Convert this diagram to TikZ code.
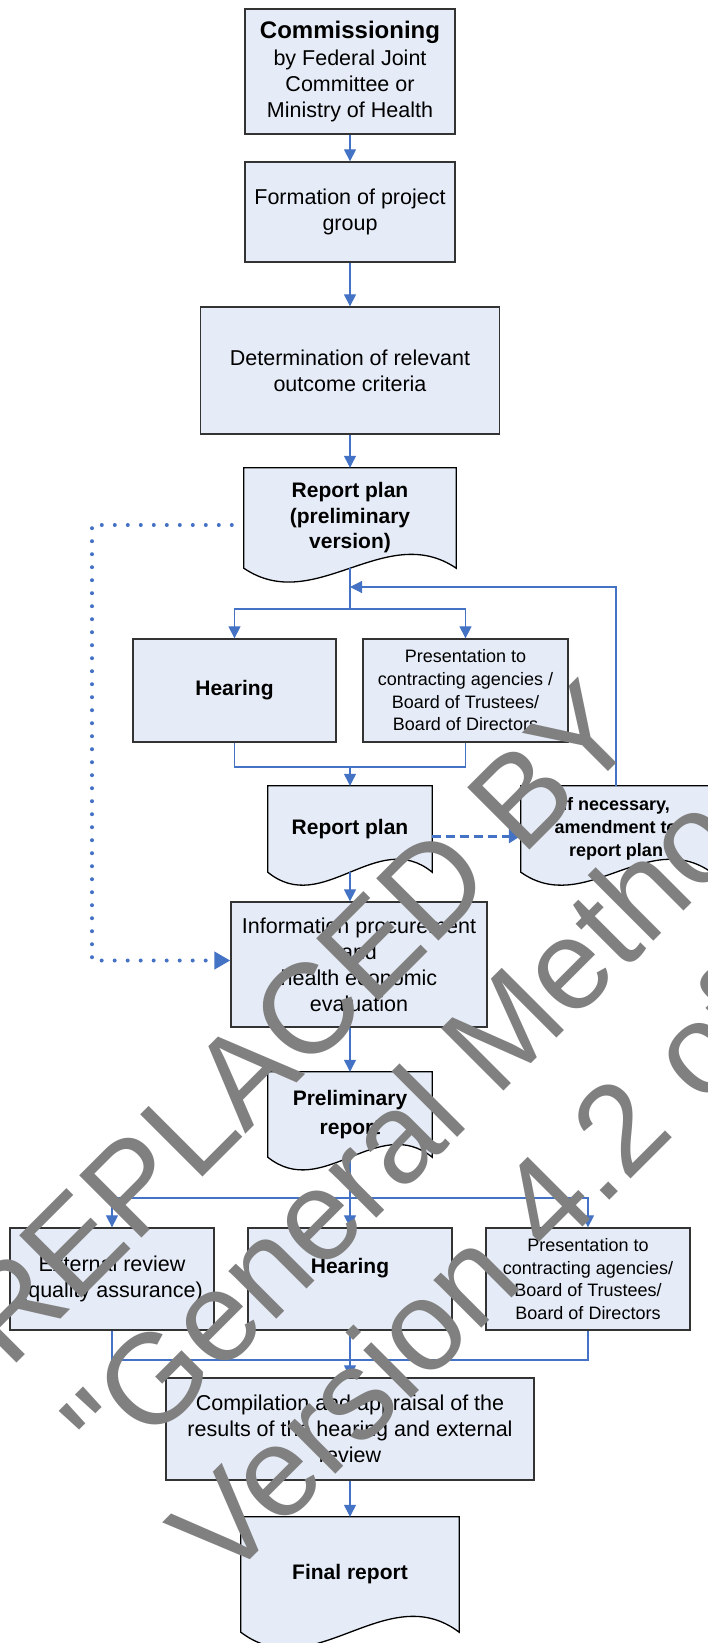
\documentclass[tikz,border=0pt]{standalone}
\usepackage{fontspec}
\setmainfont{Liberation Sans}
\usetikzlibrary{arrows.meta,calc,positioning,backgrounds}

\definecolor{boxfill}{HTML}{E6ECF7}
\definecolor{boxline}{HTML}{333333}
\definecolor{flowblue}{HTML}{4472C4}
\definecolor{wmgray}{HTML}{808080}

\newcommand\bodyfont{\fontsize{21.5pt}{26pt}\selectfont}
\newcommand\boldfont{\fontsize{21pt}{25.5pt}\selectfont\bfseries}
\newcommand\smallfont{\fontsize{18pt}{22.7pt}\selectfont}
\newcommand\smallbold{\fontsize{18pt}{22.7pt}\selectfont\bfseries}
\newcommand\headfont{\fontsize{24pt}{27pt}\selectfont\bfseries}
\newcommand\wmfont{\fontsize{128pt}{150pt}\selectfont}
\newcommand\plainquote{\XeTeXglyph\XeTeXcharglyph"22\relax}

% document outline with wavy bottom, drawn behind node #2
\newcommand\docshape[2][46]{%
  \begin{scope}[on background layer]
    \draw[docline] (#2.south west) -- (#2.north west) -- (#2.north east) -- (#2.south east)
      .. controls ($(#2.south west)!0.667!(#2.south east)+(0,-#1)$)
      and ($(#2.south west)!0.333!(#2.south east)+(0,#1)$) .. (#2.south west) -- cycle;
  \end{scope}}

\begin{document}
\begin{tikzpicture}[x=1pt,y=-1pt,node distance=140pt,
  every node/.style={align=center,inner sep=2pt,font=\bodyfont},
  box/.style={draw=boxline,fill=boxfill,line width=1.3pt},
  doc/.style={draw=none},
  docline/.style={draw=black,fill=boxfill,line width=1.3pt},
  flow/.style={draw=flowblue,line width=1.2pt},
  arr/.style={flow,-{Triangle[length=12pt,width=12pt]}},
  dasharr/.style={draw=flowblue,line width=3pt,dash pattern=on 9pt off 5pt,
                  -{Triangle[length=12pt,width=14pt]}},
  dotarr/.style={draw=flowblue,line width=4pt,line cap=round,dash pattern=on 0pt off 13pt,
                 shorten <=12pt,-{Triangle[length=16pt,width=17pt]}},
  wmark/.style={anchor=base west,rotate=45,inner sep=0pt,text=wmgray,font=\wmfont}]
\useasboundingbox (0,0) rectangle (707,1643);

\node[box,minimum width=210pt,minimum height=125pt] (comm) at (350,71.5)
  {{\headfont Commissioning}\\[1pt]by Federal Joint\\Committee or\\Ministry of Health};
\node[box,node distance=140.5pt,below of=comm,minimum width=210pt,minimum height=100pt] (form)
  {Formation of project\\group};
\node[box,node distance=158.5pt,below of=form,minimum width=299pt,minimum height=127pt] (det)
  {Determination of relevant\\outcome criteria};
\node[doc,node distance=147.5pt,below of=det,minimum width=212pt,minimum height=100pt,font=\boldfont] (rpp)
  {Report plan\\(preliminary\\version)};
\node[box,node distance=172.5pt,below of=rpp,xshift=-115.5pt,minimum width=203pt,minimum height=103pt,font=\boldfont] (hear1)
  {Hearing};
\node[box,node distance=172.5pt,below of=rpp,xshift=115.5pt,minimum width=205pt,minimum height=103pt,font=\smallfont] (pres1)
  {Presentation to\\contracting agencies /\\Board of Trustees/\\Board of Directors};
\node[doc,node distance=311pt,below of=rpp,minimum width=164pt,minimum height=86pt,font=\boldfont] (rp)
  {Report plan};
\node[doc,node distance=266pt,right of=rp,minimum width=190pt,minimum height=86pt,font=\smallbold] (amend)
  {If necessary,\\amendment to\\report plan};
\node[box,node distance=135.5pt,below of=rp,xshift=9pt,minimum width=256pt,minimum height=125pt] (info)
  {Information procurement\\and\\health economic\\evaluation};
\node[doc,node distance=285.5pt,below of=rp,minimum width=164pt,minimum height=85pt,font=\boldfont] (prel)
  {Preliminary\\[4pt]report};
\node[box,node distance=164.5pt,below of=prel,minimum width=204pt,minimum height=102pt,font=\boldfont] (hear2)
  {Hearing\\\mbox{}};
\node[box,node distance=238pt,left of=hear2,minimum width=204pt,minimum height=102pt] (ext)
  {External review\\(quality assurance)};
\node[box,node distance=238pt,right of=hear2,minimum width=204pt,minimum height=102pt,font=\smallfont] (pres2)
  {Presentation to\\contracting agencies/\\Board of Trustees/\\Board of Directors};
\node[box,node distance=150pt,below of=hear2,minimum width=368pt,minimum height=102pt] (comp)
  {Compilation and appraisal of the\\results of the hearing and external\\review};
\node[doc,node distance=145.5pt,below of=comp,minimum width=218pt,minimum height=115pt,font=\boldfont] (final)
  {Final report};

\docshape[48]{rpp}
\docshape[45]{rp}
\docshape[45]{amend}
\docshape[44]{prel}
\docshape[55]{final}

\coordinate (split1) at (350,609);
\coordinate (ret) at (350,587);
\coordinate (merge1) at (350,767);
\coordinate (dotturn) at (92,525);
\coordinate (split2) at (350,1198);
\coordinate (merge2) at (350,1360);

\draw[arr] (comm) -- (form);
\draw[arr] (form) -- (det);
\draw[arr] (det) -- (rpp);
\draw[flow] (rpp.south) -- (split1);
\draw[arr] (split1) -| (hear1.north);
\draw[arr] (split1) -| (pres1.north);
\draw[arr] (amend.north) |- (ret);
\draw[flow] (hear1.south) |- (merge1) -| (pres1.south);
\draw[arr] (merge1) -- (rp.north);
\draw[dasharr] ([yshift=-7pt]rp.east) -- ([yshift=-7pt]amend.west);
\draw[dotarr] ([yshift=-7pt]rpp.west) -- (dotturn) |- ([yshift=4pt]info.west);
\draw[arr] (rp.south) -- (rp.south |- info.north);
\draw[arr] (info.south -| prel.north) -- (prel.north);
\draw[flow] (prel.south) -- (split2);
\draw[arr] (split2) -| (ext.north);
\draw[arr] (split2) -- (hear2.north);
\draw[arr] (split2) -| (pres2.north);
\draw[flow] (ext.south) |- (merge2) -| (pres2.south);
\draw[arr] (hear2.south) -- (comp.north);
\draw[arr] (comp) -- (final);

% watermark
\node[wmark] (wm1) at (9,1371) {REPLACED BY};
\node[wmark] (wm2) at (117,1478) {\plainquote General Methods\plainquote};
\node[wmark] (wm3) at (224,1586) {Version 4.2 of};
\end{tikzpicture}
\end{document}
